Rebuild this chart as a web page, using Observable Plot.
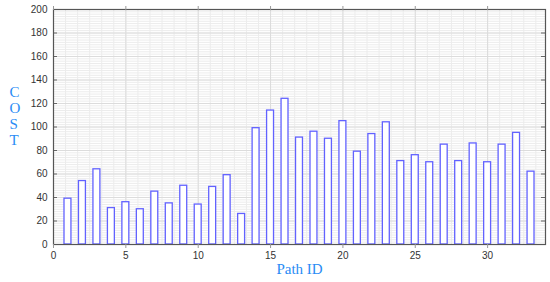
<!DOCTYPE html>
<html>
<head>
<meta charset="utf-8">
<script src="https://cdn.jsdelivr.net/npm/d3@7"></script>
<script src="https://cdn.jsdelivr.net/npm/@observablehq/plot@0.6"></script>
<style>
  html, body { margin: 0; padding: 0; background: #fff; }
  #chart svg { display: block; }
</style>
</head>
<body>
<div id="chart"></div>
<script>
const pathIds = [1,2,3,4,5,6,7,8,9,10,11,12,13,14,15,16,17,18,19,20,21,22,23,24,25,26,27,28,29,30,31,32,33];
const costs   = [39,54,64,31,36,30,45,35,50,34,49,59,26,99,114,124,91,96,90,105,79,94,104,71,76,70,85,71,86,70,85,95,62];
const xTicks = [0,5,10,15,20,25,30];
const yTicks = [0,20,40,60,80,100,120,140,160,180,200];
const xLabel = "Path ID";
const yLabel = "COST";

const data = pathIds.map((id, i) => ({id, cost: costs[i]}));
const halfW = 0.24;
const xMinor = d3.range(0, 34.001, 5/6);
const yMinor = d3.range(0, 200.001, 2);
const plotW = 550 - 53 - 5;

const chart = Plot.plot({
  width: 550,
  height: 282,
  marginLeft: 53,
  marginRight: 5,
  marginTop: 9,
  marginBottom: 38,
  style: {fontFamily: "Liberation Sans, Arial, sans-serif", fontSize: "10px", color: "#333", background: "#fff"},
  x: {domain: [0, 34]},
  y: {domain: [0, 200]},
  marks: [
    Plot.ruleX(xMinor, {stroke: "#ececec", strokeWidth: 1}),
    Plot.ruleY(yMinor, {stroke: "#ececec", strokeWidth: 1}),
    Plot.ruleX(xTicks, {stroke: "#dcdcdc", strokeWidth: 1}),
    Plot.ruleY(yTicks, {stroke: "#dcdcdc", strokeWidth: 1}),
    Plot.rect(data, {
      x1: d => d.id - halfW,
      x2: d => d.id + halfW,
      y1: 0,
      y2: "cost",
      fill: "white",
      stroke: "#6262ff",
      strokeWidth: 1.3
    }),
    Plot.tickY(yTicks, {y: d => d, stroke: "#666", insetRight: plotW - 4}),
    Plot.tickY(yTicks, {y: d => d, stroke: "#666", insetLeft: plotW - 4}),
    Plot.frame({stroke: "#555", strokeWidth: 1.2}),
    Plot.axisX(xTicks, {anchor: "bottom", tickSize: 4, tickPadding: 3, stroke: "#999", fill: "#333"}),
    Plot.axisX(xTicks, {anchor: "top", tickSize: 4, text: null, label: null, stroke: "#999"}),
    Plot.axisY(yTicks, {anchor: "left", tickSize: 0, tickPadding: 6, fill: "#333", label: null}),
    Plot.text([yLabel.split("").join("\n")], {
      frameAnchor: "left", dx: -44, dy: -11, lineHeight: 1.08,
      fontFamily: "Liberation Serif, DejaVu Serif, serif", fontSize: 15, fill: "#2a8cf5"
    }),
    Plot.text([xLabel], {
      frameAnchor: "bottom", dy: 29.5,
      fontFamily: "Liberation Serif, DejaVu Serif, serif", fontSize: 15, fill: "#2a8cf5"
    })
  ]
});
document.getElementById("chart").appendChild(chart);
</script>
</body>
</html>
